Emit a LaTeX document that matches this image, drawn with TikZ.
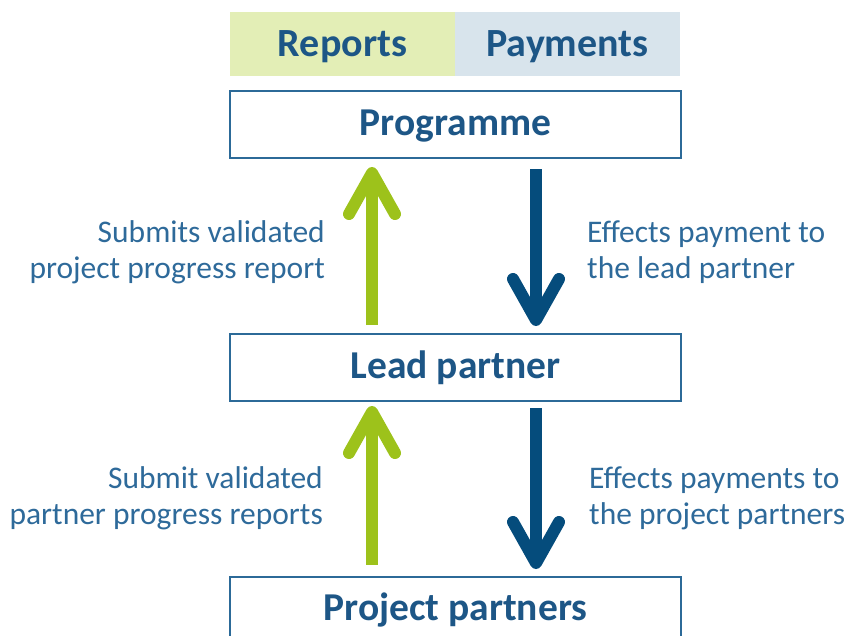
\documentclass[tikz,border=0pt]{standalone}
\usepackage{fontspec}
\setmainfont{Carlito}
\begin{document}
\begin{tikzpicture}[x=1pt,y=-1pt,
  box/.style={draw=boxblue,line width=2pt,fill=white,minimum width=451pt,minimum height=67pt,inner sep=0pt,text height=26pt,text depth=5pt,text=titleblue,font=\bfseries\fontsize{39.5}{46}\selectfont},
  hdr/.style={minimum width=225pt,minimum height=64pt,inner sep=0pt,text height=28pt,text depth=4pt,text=titleblue,font=\bfseries\fontsize{40}{46}\selectfont},
  lbl/.style={text=lblblue,font=\fontsize{31.5}{36}\selectfont,inner sep=0pt},
  shaft/.style={line width=12pt,line cap=butt},
  head/.style={line width=12pt,line cap=round,line join=round},
  gcol/.style={draw=arrgreen},
  bcol/.style={draw=arrblue}]
\definecolor{boxblue}{HTML}{2C6A98}
\definecolor{titleblue}{HTML}{1D5686}
\definecolor{lblblue}{HTML}{2E6A9A}
\definecolor{arrgreen}{HTML}{9DC21B}
\definecolor{arrblue}{HTML}{054C7C}
\definecolor{repgreen}{HTML}{E3EEB6}
\definecolor{paylblue}{HTML}{D8E4EC}
\useasboundingbox (0,0) rectangle (848,635);
\node[hdr,fill=repgreen] (rep) at (342.5,44) {Reports};
\node[hdr,fill=paylblue] (pay) at (567.5,44) {Payments};
\node[box] (prog) at (455.5,124.5) {Programme};
\node[box] (lead) at (455.5,367.5) {Lead partner};
\node[box] (proj) at (455.5,610) {Project partners};
% arrows level 1
\coordinate (g1b) at ([xshift=-83.5pt,yshift=8pt]lead.north);
\coordinate (g1t) at ([xshift=-83.5pt,yshift=-14pt]prog.south);
\draw[shaft,gcol] (g1b) -- (g1t);
\draw[head,gcol] ([shift={(-23pt,-41pt)}]g1t) -- (g1t) -- ([shift={(23pt,-41pt)}]g1t);
\coordinate (b1t) at ([xshift=80.5pt,yshift=13pt]lead.north);
\coordinate (b1b) at ([xshift=80.5pt,yshift=-10pt]prog.south);
\draw[shaft,bcol] (b1b) -- (b1t);
\draw[head,bcol] ([shift={(-23pt,41pt)}]b1t) -- (b1t) -- ([shift={(23pt,41pt)}]b1t);
% arrows level 2
\coordinate (g2b) at ([xshift=-83.5pt,yshift=11pt]proj.north);
\coordinate (g2t) at ([xshift=-83.5pt,yshift=-10pt]lead.south);
\draw[shaft,gcol] (g2b) -- (g2t);
\draw[head,gcol] ([shift={(-23pt,-41pt)}]g2t) -- (g2t) -- ([shift={(23pt,-41pt)}]g2t);
\coordinate (b2t) at ([xshift=80.5pt,yshift=12.5pt]proj.north);
\coordinate (b2b) at ([xshift=80.5pt,yshift=-6pt]lead.south);
\draw[shaft,bcol] (b2b) -- (b2t);
\draw[head,bcol] ([shift={(-23pt,41pt)}]b2t) -- (b2t) -- ([shift={(23pt,41pt)}]b2t);
% labels
\node[lbl,anchor=east,align=right] (l1) at (325,252) {Submits validated\\project progress report};
\node[lbl,anchor=west,align=left] (r1) at (587,252) {Effects payment to\\the lead partner};
\node[lbl,anchor=east,align=right] (l2) at (323,498) {Submit validated\\partner progress reports};
\node[lbl,anchor=west,align=left] (r2) at (589,498) {Effects payments to\\the project partners};
\end{tikzpicture}
\end{document}
